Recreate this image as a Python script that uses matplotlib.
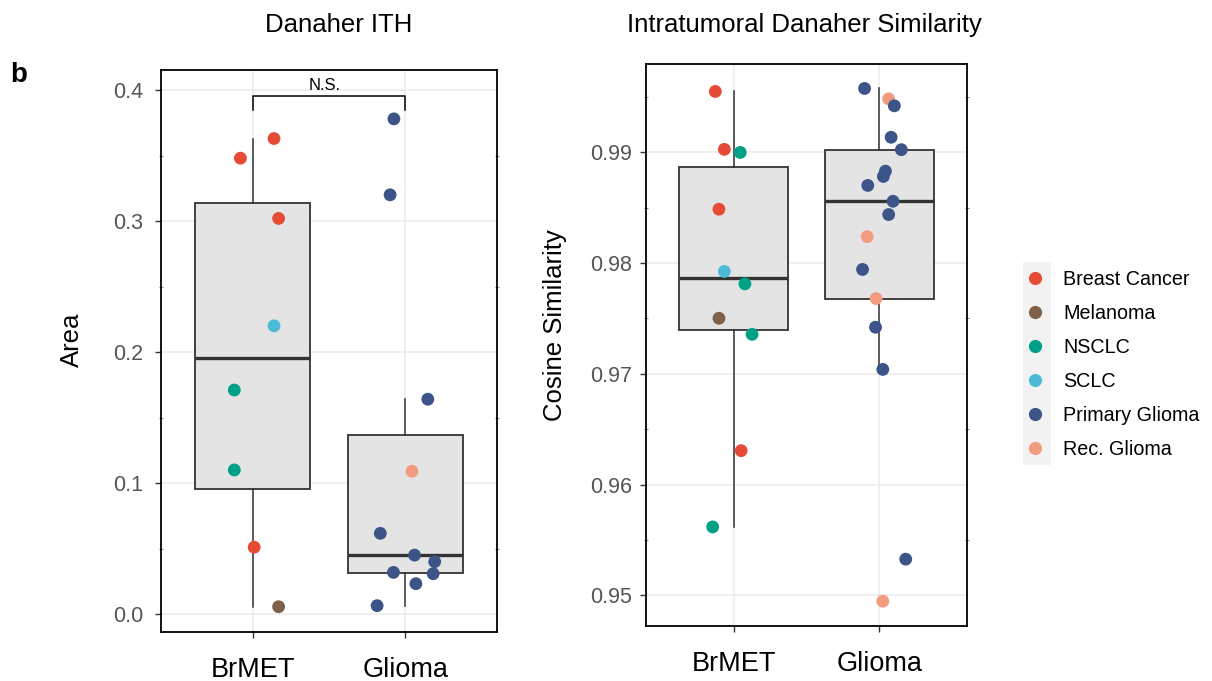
import matplotlib
matplotlib.use('Agg')
import matplotlib.pyplot as plt
from matplotlib.lines import Line2D
from matplotlib.patches import Rectangle
import numpy as np

plt.rcParams['font.family'] = ['Liberation Sans', 'DejaVu Sans']

# tumour types and their colours (npg palette)
types = ['Breast Cancer', 'Melanoma', 'NSCLC', 'SCLC', 'Primary Glioma', 'Rec. Glioma']
type_colors = ['#E64B35', '#7E6148', '#00A087', '#4DBBD5', '#3C5488', '#F39B7F']
groups = ['BrMET', 'Glioma']

# Danaher ITH area
brmet_area = [0.363, 0.348, 0.302, 0.220, 0.171, 0.110, 0.051, 0.0056]
brmet_area_type = ['Breast Cancer', 'Breast Cancer', 'Breast Cancer', 'SCLC',
                   'NSCLC', 'NSCLC', 'Breast Cancer', 'Melanoma']
brmet_area_jit = [0.14, -0.08, 0.17, 0.14, -0.12, -0.12, 0.01, 0.17]

glioma_area = [0.378, 0.320, 0.164, 0.109, 0.0616, 0.045, 0.040, 0.0318, 0.0308, 0.0232, 0.0064]
glioma_area_type = ['Primary Glioma'] * 3 + ['Rec. Glioma'] + ['Primary Glioma'] * 7
glioma_area_jit = [-0.075, -0.10, 0.147, 0.043, -0.164, 0.060, 0.192, -0.078, 0.182, 0.069, -0.185]

# intratumoral cosine similarity
brmet_sim = [0.99551, 0.99028, 0.99000, 0.98487, 0.97925, 0.97813, 0.97502, 0.97357, 0.96306, 0.95617]
brmet_sim_type = ['Breast Cancer', 'Breast Cancer', 'NSCLC', 'Breast Cancer', 'SCLC',
                  'NSCLC', 'Melanoma', 'NSCLC', 'Breast Cancer', 'NSCLC']
brmet_sim_jit = [-0.125, -0.063, 0.046, -0.100, -0.063, 0.078, -0.100, 0.127, 0.052, -0.143]

glioma_sim = [0.99578, 0.99484, 0.99421, 0.99137, 0.99025, 0.98831, 0.98783, 0.98702, 0.98559,
              0.98439, 0.98239, 0.97943, 0.9768, 0.97421, 0.9704, 0.95326, 0.94946]
glioma_sim_type = ['Primary Glioma', 'Rec. Glioma', 'Primary Glioma', 'Primary Glioma',
                   'Primary Glioma', 'Primary Glioma', 'Primary Glioma', 'Primary Glioma',
                   'Primary Glioma', 'Primary Glioma', 'Rec. Glioma', 'Primary Glioma',
                   'Rec. Glioma', 'Primary Glioma', 'Primary Glioma', 'Primary Glioma',
                   'Rec. Glioma']
glioma_sim_jit = [-0.102, 0.063, 0.102, 0.080, 0.150, 0.041, 0.027, -0.080, 0.093,
                  0.063, -0.084, -0.116, -0.023, -0.027, 0.023, 0.180, 0.023]

cmap = dict(zip(types, type_colors))
W, H = 1212, 681

fig = plt.figure(figsize=(W / 100, H / 100), dpi=100)
ax1 = fig.add_axes([161 / W, 1 - 632 / H, 336 / W, 562 / H])
ax2 = fig.add_axes([646 / W, 1 - 626 / H, 321 / W, 562 / H])


def panel(ax, vals, kinds, jits, ylim, major, minor, ypad):
    ax.boxplot(vals, positions=[1, 2], widths=0.75, whis=1.5, showfliers=False,
               patch_artist=True, showcaps=False,
               boxprops=dict(facecolor='#E4E4E4', edgecolor='#333333', linewidth=1.3),
               whiskerprops=dict(color='#333333', linewidth=1.1),
               medianprops=dict(color='#333333', linewidth=2.4),
               zorder=2)
    for i, (v, k, j) in enumerate(zip(vals, kinds, jits)):
        x = i + 1 + np.array(j)
        ax.scatter(x, v, s=85, c=[cmap[t] for t in k], linewidths=0, zorder=3)
    ax.set_xlim(0.4, 2.6)
    ax.set_ylim(*ylim)
    ax.set_xticks([1, 2])
    ax.set_xticklabels(groups, fontsize=19.5, color='black')
    ax.set_yticks(major)
    ax.set_yticks(minor, minor=True)
    ax.grid(True, which='major', color='#EBEBEB', linewidth=1.1, zorder=0)
    ax.set_axisbelow(True)
    ax.tick_params(axis='x', length=4, width=1, color='#333333', pad=14)
    ax.tick_params(axis='y', which='major', length=4, width=1, color='#333333',
                   labelsize=15.5, labelcolor='#555555', pad=ypad)
    ax.tick_params(axis='y', which='minor', length=3, width=0.8, color='#888888',
                   direction='inout', right=True)
    for s in ax.spines.values():
        s.set_linewidth(1.3)
        s.set_color('black')


panel(ax1, [brmet_area, glioma_area], [brmet_area_type, glioma_area_type],
      [brmet_area_jit, glioma_area_jit], (-0.0137, 0.4153),
      [0.0, 0.1, 0.2, 0.3, 0.4], [0.05, 0.15, 0.25, 0.35], 9)
ax1.set_yticklabels(['0.0', '0.1', '0.2', '0.3', '0.4'])

panel(ax2, [brmet_sim, glioma_sim], [brmet_sim_type, glioma_sim_type],
      [brmet_sim_jit, glioma_sim_jit], (0.94722, 0.99799),
      [0.95, 0.96, 0.97, 0.98, 0.99], [0.955, 0.965, 0.975, 0.985, 0.995], 6)
ax2.set_yticklabels(['0.95', '0.96', '0.97', '0.98', '0.99'])

# significance bracket
ax1.plot([1, 1, 2, 2], [0.3847, 0.3957, 0.3957, 0.3847], color='black', lw=1.1, zorder=4)
ax1.text(1.47, 0.4, 'N.S.', ha='center', va='baseline', fontsize=12)

# titles, axis labels, panel letter
fig.text(339 / W, 1 - 32 / H, 'Danaher ITH', ha='center', va='baseline', fontsize=18.5)
fig.text(804 / W, 1 - 32 / H, 'Intratumoral Danaher Similarity', ha='center',
         va='baseline', fontsize=18.5)
fig.text(72 / W, 1 - 340 / H, 'Area', rotation=90, ha='center', va='center', fontsize=18.5)
fig.text(555 / W, 1 - 325 / H, 'Cosine Similarity', rotation=90, ha='center',
         va='center', fontsize=18.5)
fig.text(10 / W, 1 - 82 / H, 'b', fontsize=20, fontweight='bold', va='baseline')

# legend with grey key column
handles = [Line2D([], [], marker='o', linestyle='none', markersize=9.5,
                  markerfacecolor=c, markeredgewidth=0) for c in type_colors]
leg = fig.legend(handles, types, loc='upper left', bbox_to_anchor=(1025 / W, 1 - 270 / H),
                 frameon=False, fontsize=14.2, handlelength=1.0, handletextpad=0.93,
                 labelspacing=0.76, borderpad=0, borderaxespad=0)
fig.add_artist(Rectangle((1023 / W, 1 - 465 / H), 28 / W, 203 / H,
                         transform=fig.transFigure, facecolor='#F2F2F2',
                         edgecolor='none', zorder=0))

fig.savefig('out.png', dpi=100)
